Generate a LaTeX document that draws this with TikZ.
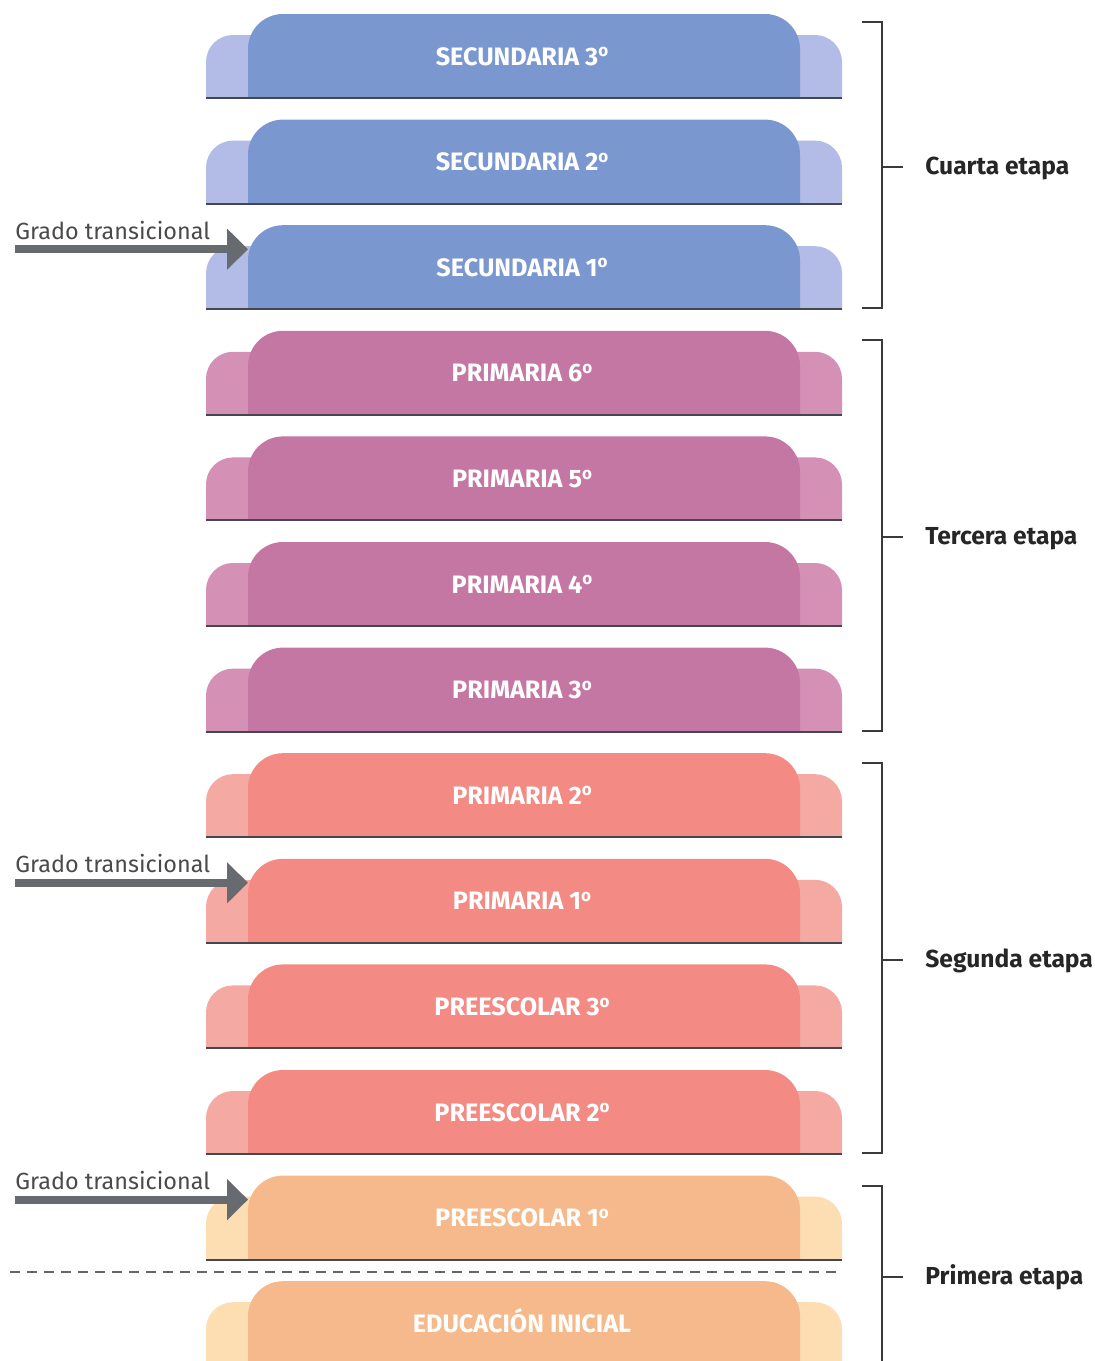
\documentclass[tikz,border=0pt]{standalone}
\usepackage{fontspec}
\setmainfont{Fira Sans}
\usetikzlibrary{arrows.meta}
\definecolor{blueM}{HTML}{7B97CF}
\definecolor{blueT}{HTML}{B2BCE6}
\definecolor{purpM}{HTML}{C577A4}
\definecolor{purpT}{HTML}{D590B6}
\definecolor{coralM}{HTML}{F38A83}
\definecolor{coralT}{HTML}{F4A9A3}
\definecolor{orM}{HTML}{F5B98B}
\definecolor{orT}{HTML}{FDDDB2}
\definecolor{floorclr}{HTML}{45474F}
\definecolor{brkclr}{HTML}{3A3A3A}
\definecolor{arrclr}{HTML}{676B70}
\definecolor{gtxtclr}{HTML}{4A4A4A}
\newcommand\ordo{\raisebox{0.62ex}{\fontsize{8.5pt}{9pt}\selectfont o}}
\tikzset{
  lbl/.style={text=white, font=\fontsize{12.6pt}{14pt}\selectfont\bfseries, inner sep=0pt, anchor=base},
  floorline/.style={draw=floorclr, line width=1pt},
  brk/.style={draw=brkclr, line width=0.75pt},
  stagelbl/.style={text=black!85, font=\fontsize{12.3pt}{14pt}\selectfont\bfseries, inner sep=0pt, anchor=base west},
  gtxt/.style={text=gtxtclr, font=\fontsize{11.7pt}{13pt}\selectfont, inner sep=0pt, anchor=base west},
  garrow/.style={draw=arrclr, line width=4pt, -{Triangle[length=10.5pt,width=20pt]}},
  sep/.style={draw=black!60, line width=0.75pt, dash pattern=on 5pt off 3.5pt}
}
\newcommand\gblock[5]{%
  \begin{scope}
    \clip (0,#2-2) rectangle (1094,#2+84);
    \fill[#4, rounded corners=13.5pt] (206,#2+21) rectangle (300,#2+130);
    \fill[#4, rounded corners=13.5pt] (748,#2+21) rectangle (842,#2+130);
    \fill[#3, rounded corners=17.5pt] (248,#2) rectangle (800,#2+130);
  \end{scope}
  \draw[floorline] (206,#2+84) -- (842,#2+84);
  \node[lbl] (#1) at (522,#2+51) {#5};
}
\newcommand\gtrans[2]{%
  \node[gtxt] (#1t) at (15,#2+14) {Grado transicional};
  \coordinate (#1s) at (15,#2+24);
  \coordinate (#1e) at (248,#2+24);
  \draw[garrow] (#1s) -- (#1e);
}
\newcommand\stagebrk[5]{% name, top, bottom, mid, text
  \coordinate (#1a) at (862,#2);
  \coordinate (#1b) at (882,#2);
  \coordinate (#1c) at (882,#3);
  \coordinate (#1d) at (862,#3);
  \coordinate (#1m) at (882,#4);
  \node[stagelbl] (#1) at (925,#4+7) {#5};
  \draw[brk] (#1a) -- (#1b) -- (#1c) -- (#1d);
  \draw[brk] (#1m) -- ([xshift=-11pt]#1.base west |- #1m);
}
\begin{document}
\begin{tikzpicture}[x=0.5pt,y=-0.5pt]
\clip (0,0) rectangle (1094,1361);
\fill[white] (0,0) rectangle (1094,1361);
\gblock{s3}{14}{blueM}{blueT}{SECUNDARIA 3\ordo}
\gblock{s2}{119.6}{blueM}{blueT}{SECUNDARIA 2\ordo}
\gblock{s1}{225.2}{blueM}{blueT}{SECUNDARIA 1\ordo}
\gblock{p6}{330.8}{purpM}{purpT}{PRIMARIA 6\ordo}
\gblock{p5}{436.4}{purpM}{purpT}{PRIMARIA 5\ordo}
\gblock{p4}{542}{purpM}{purpT}{PRIMARIA 4\ordo}
\gblock{p3}{647.6}{purpM}{purpT}{PRIMARIA 3\ordo}
\gblock{p2}{753.2}{coralM}{coralT}{PRIMARIA 2\ordo}
\gblock{p1}{858.8}{coralM}{coralT}{PRIMARIA 1\ordo}
\gblock{pe3}{964.4}{coralM}{coralT}{PREESCOLAR 3\ordo}
\gblock{pe2}{1070}{coralM}{coralT}{PREESCOLAR 2\ordo}
\gblock{pe1}{1175.6}{orM}{orT}{PREESCOLAR 1\ordo}
\gblock{ei}{1281.2}{orM}{orT}{EDUCACIÓN INICIAL}
\coordinate (dashA) at (10,1272);
\coordinate (dashB) at (842,1272);
\draw[sep] (dashA) -- (dashB);
\gtrans{ga}{225.2}
\gtrans{gb}{858.8}
\gtrans{gc}{1175.6}
\stagebrk{cuarta}{22}{308}{167}{Cuarta etapa}
\stagebrk{tercera}{340}{731}{537}{Tercera etapa}
\stagebrk{segunda}{763}{1153}{960}{Segunda etapa}
\stagebrk{primera}{1186}{1400}{1277}{Primera etapa}
\end{tikzpicture}
\end{document}
